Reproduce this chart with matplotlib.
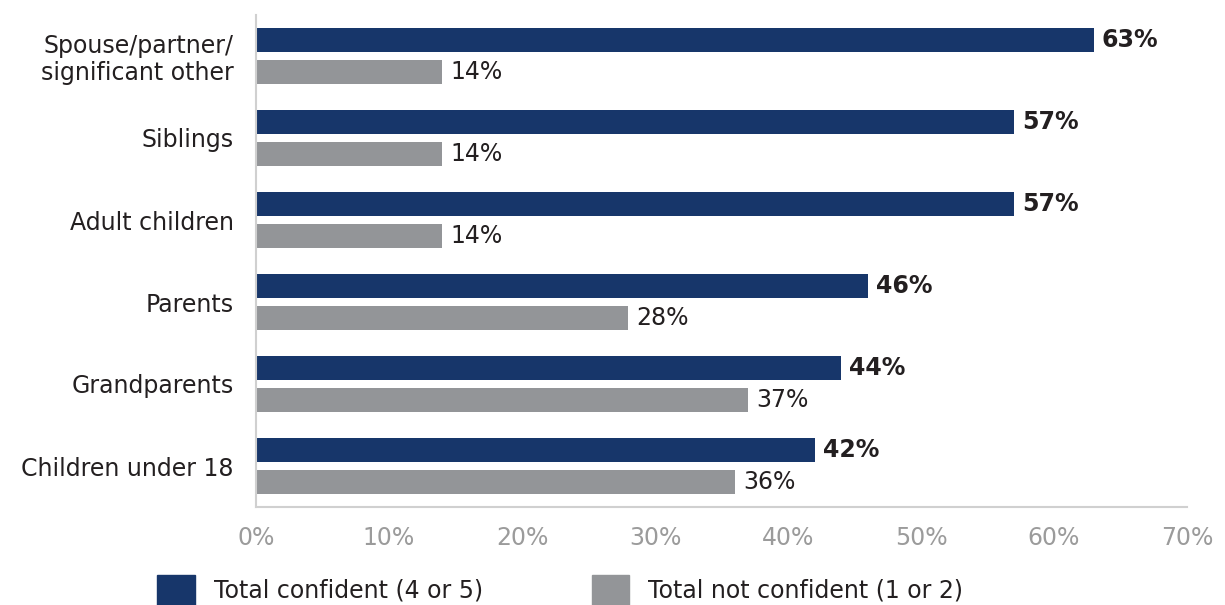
import numpy as np
import matplotlib.pyplot as plt
from matplotlib.patches import Patch

plt.rcParams['font.family'] = ['DejaVu Sans']

categories = ['Spouse/partner/\nsignificant other', 'Siblings', 'Adult children',
              'Parents', 'Grandparents', 'Children under 18']
confident = [63, 57, 57, 46, 44, 42]
not_confident = [14, 14, 14, 28, 37, 36]
series_names = ['Total confident (4 or 5)', 'Total not confident (1 or 2)']

navy = '#17366a'
grey = '#939598'
text_col = '#231f20'
fs = 17

fig = plt.figure(figsize=(12.25, 6.05), dpi=100)
ax = fig.add_axes([256 / 1225, 1 - 507 / 605, (1187 - 256) / 1225, (507 - 15) / 605])

y = np.arange(len(categories))
h = 0.29
off = 0.195
ax.barh(y - off, confident, height=h, color=navy)
ax.barh(y + off, not_confident, height=h, color=grey)

for yy, v in zip(y - off, confident):
    ax.text(v + 0.6, yy, f'{v}%', va='center', ha='left', fontsize=fs,
            fontweight='bold', color=text_col)
for yy, v in zip(y + off, not_confident):
    ax.text(v + 0.6, yy, f'{v}%', va='center', ha='left', fontsize=fs,
            color=text_col)

ax.set_xlim(0, 70)
ax.set_ylim(len(categories) - 0.5, -0.5)
ax.set_xticks(np.arange(0, 71, 10))
ax.set_xticklabels([f'{t}%' for t in range(0, 71, 10)])
ax.set_yticks(y)
ax.set_yticklabels(categories, fontsize=fs, color=text_col, linespacing=1.15)
ax.tick_params(axis='x', length=0, pad=14, labelsize=fs, labelcolor='#9b9b9b')
ax.tick_params(axis='y', length=0, pad=16)

for s in ['top', 'right']:
    ax.spines[s].set_visible(False)
for s in ['left', 'bottom']:
    ax.spines[s].set_color('#d0d0d0')
    ax.spines[s].set_linewidth(1.5)

handles = [Patch(color=navy), Patch(color=grey)]
fig.legend(handles, series_names, loc='lower left', bbox_to_anchor=(136 / 1225, -0.035),
           ncol=2, frameon=False, fontsize=fs, handlelength=1.6, handleheight=1.6,
           handletextpad=0.8, columnspacing=4.6, labelcolor=text_col)

fig.savefig('out.png', dpi=100, facecolor='white')
